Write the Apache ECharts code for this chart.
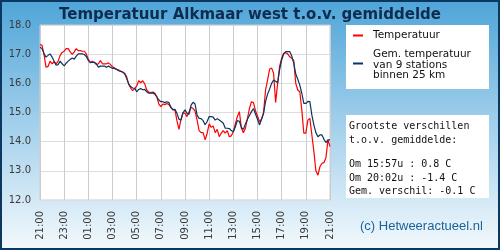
<!DOCTYPE html>
<html><head><meta charset="utf-8">
<script src="https://cdn.jsdelivr.net/npm/echarts@6/dist/echarts.min.js"></script>
<style>html,body{margin:0;padding:0;background:#fff}#c{width:500px;height:250px}</style>
</head><body><div id="c"></div>
<script>
// 10-minute readings from 21:00 to 21:00 next day
const temperature = [
17.33,17.30,16.99,16.55,16.58,16.76,16.67,16.74,16.67,16.76,
16.96,17.06,17.10,17.19,17.19,17.08,16.99,17.08,17.19,17.12,
17.12,17.10,17.10,17.01,16.82,16.70,16.76,16.71,16.64,16.67,
16.78,16.67,16.67,16.67,16.70,16.64,16.57,16.53,16.48,16.46,
16.42,16.39,16.34,16.23,15.98,15.84,15.75,15.81,15.91,16.09,
16.02,16.09,15.98,15.77,15.70,15.68,15.70,15.67,15.54,15.29,
15.20,15.29,15.27,15.31,15.27,15.17,15.09,15.09,14.72,14.42,
14.77,14.99,14.97,14.86,15.02,15.18,15.14,15.05,14.74,14.38,
14.31,14.31,14.06,14.29,14.61,14.49,14.54,14.31,14.42,14.17,
14.29,14.38,14.29,14.38,14.17,14.20,14.34,14.61,14.86,15.03,
14.46,14.31,14.46,14.79,15.14,15.37,15.34,15.06,14.88,14.69,
14.77,14.99,15.77,16.11,16.48,16.53,16.34,15.34,16.00,16.59,
16.86,17.03,17.05,17.01,16.91,16.86,16.78,16.00,15.77,15.71,
15.09,14.29,14.29,14.74,14.80,14.23,13.66,13.00,12.85,13.14,
13.26,13.28,13.46,14.06,13.83
];
const average = [
17.24,17.19,17.01,16.90,16.96,17.01,16.90,16.76,16.62,16.64,
16.76,16.67,16.60,16.69,16.76,16.82,16.87,16.83,16.93,17.01,
17.01,17.01,16.99,16.92,16.78,16.72,16.72,16.72,16.67,16.55,
16.59,16.59,16.59,16.55,16.59,16.55,16.51,16.51,16.48,16.43,
16.41,16.39,16.34,16.17,15.98,15.89,15.84,15.83,15.71,15.79,
15.82,15.78,15.79,15.71,15.66,15.66,15.67,15.63,15.54,15.43,
15.37,15.37,15.34,15.37,15.34,15.18,15.10,15.11,14.97,14.77,
14.74,14.99,15.09,14.97,14.94,15.25,15.35,15.29,14.91,14.80,
14.79,14.72,14.58,14.69,14.86,14.86,14.84,14.74,14.79,14.74,
14.69,14.63,14.46,14.46,14.45,14.38,14.34,14.51,14.72,14.70,
14.49,14.42,14.61,14.77,14.90,15.03,15.13,14.95,14.77,14.57,
14.77,14.97,15.37,15.63,15.80,16.00,16.11,16.07,16.02,16.48,
16.80,17.01,17.09,17.09,17.09,16.94,16.69,16.32,16.14,15.94,
15.66,15.31,15.31,15.38,15.37,14.91,14.57,14.31,14.17,14.23,
14.23,14.08,13.97,14.06,14.06
];
const seriesNames = ['Temperatuur', 'Gem. temperatuur van 9 stations binnen 25 km'];
const legendLines = ['Gem. temperatuur', 'van 9 stations', 'binnen 25 km'];
const statsLines = ['Grootste verschillen', 't.o.v. gemiddelde:', 'Om 15:57u : 0.8 C', 'Om 20:02u : -1.4 C', 'Gem. verschil: -0.1 C'];
const titleText = 'Temperatuur Alkmaar west t.o.v. gemiddelde';
const creditText = '(c) Hetweeractueel.nl';

const categories = [];
for (let i = 0; i < temperature.length; i++) {
  const m = (21 * 60 + i * 10) % 1440;
  categories.push(String(Math.floor(m / 60)).padStart(2, '0') + ':' + String(m % 60).padStart(2, '0'));
}

const chart = echarts.init(document.getElementById('c'), null, {renderer: 'canvas'});
const txt = (t, x, y, font, fill) => ({type: 'text', x: x, y: y, z: 100,
  style: {text: t, font: font, fill: fill, textVerticalAlign: 'middle', verticalAlign: 'middle'}});
const monoFont = '10px "DejaVu Sans Mono"';
const legFont = '10.5px "DejaVu Sans"';

chart.setOption({
  animation: false,
  backgroundColor: {type: 'linear', x: 0, y: 0, x2: 0, y2: 1,
    colorStops: [{offset: 0, color: '#4ea5d8'}, {offset: 0.5, color: '#a3d0ec'}, {offset: 1, color: '#f3f9fc'}]},
  title: {text: titleText, left: 'center', top: 3,
    textStyle: {fontFamily: 'DejaVu Sans', fontWeight: 'bold', fontSize: 15, color: '#0e2c50'}},
  grid: {left: 40, right: 170, top: 25, bottom: 50, show: true, backgroundColor: '#fff',
    borderColor: '#cccccc', borderWidth: 1},
  xAxis: {type: 'category', data: categories, boundaryGap: false,
    axisLine: {show: false}, axisTick: {show: false},
    axisLabel: {interval: 11, rotate: 90, margin: 11, fontFamily: 'DejaVu Sans', fontSize: 10, color: '#3a3a3a'},
    splitLine: {show: true, interval: 11, lineStyle: {color: '#cccccc', width: 1}}},
  yAxis: {type: 'value', min: 12, max: 18, interval: 1,
    axisLine: {show: false}, axisTick: {show: false},
    axisLabel: {margin: 9, formatter: v => v.toFixed(1), fontFamily: 'DejaVu Sans', fontSize: 10, color: '#3a3a3a'},
    splitLine: {lineStyle: {color: '#dddddd', width: 1}}},
  series: [
    {name: seriesNames[0], type: 'line', data: temperature, showSymbol: false, symbol: 'none',
     lineStyle: {color: '#ff0000', width: 1.2}, itemStyle: {color: '#ff0000'}},
    {name: seriesNames[1], type: 'line', data: average, showSymbol: false, symbol: 'none',
     lineStyle: {color: '#0b3560', width: 1.2}, itemStyle: {color: '#0b3560'}}
  ],
  graphic: [
    {type: 'rect', z: 90, shape: {x: 346, y: 25, width: 143, height: 64}, style: {fill: '#ffffff'}},
    {type: 'line', z: 100, shape: {x1: 353, y1: 35.5, x2: 363, y2: 35.5}, style: {stroke: '#ff0000', lineWidth: 2}},
    txt(seriesNames[0], 373, 35.5, legFont, '#111'),
    {type: 'line', z: 100, shape: {x1: 353, y1: 63.5, x2: 363, y2: 63.5}, style: {stroke: '#0b3560', lineWidth: 2}},
    txt(legendLines[0], 373, 54.5, legFont, '#111'),
    txt(legendLines[1], 373, 65, legFont, '#111'),
    txt(legendLines[2], 373, 75.5, legFont, '#111'),
    {type: 'rect', z: 90, shape: {x: 346, y: 115, width: 143, height: 83}, style: {fill: '#ffffff'}},
    txt(statsLines[0], 349, 126, monoFont, '#111'),
    txt(statsLines[1], 349, 140.5, monoFont, '#111'),
    txt(statsLines[2], 349, 164, monoFont, '#111'),
    txt(statsLines[3], 349, 178, monoFont, '#111'),
    txt(statsLines[4], 349, 191.5, monoFont, '#111'),
    txt(creditText, 360, 226.5, '13px "Liberation Sans"', '#1d6399'),
    {type: 'rect', z: 200, shape: {x: 1, y: 1, width: 498, height: 248}, style: {fill: 'none', stroke: '#0c3760', lineWidth: 2}}
  ]
});
</script></body></html>
